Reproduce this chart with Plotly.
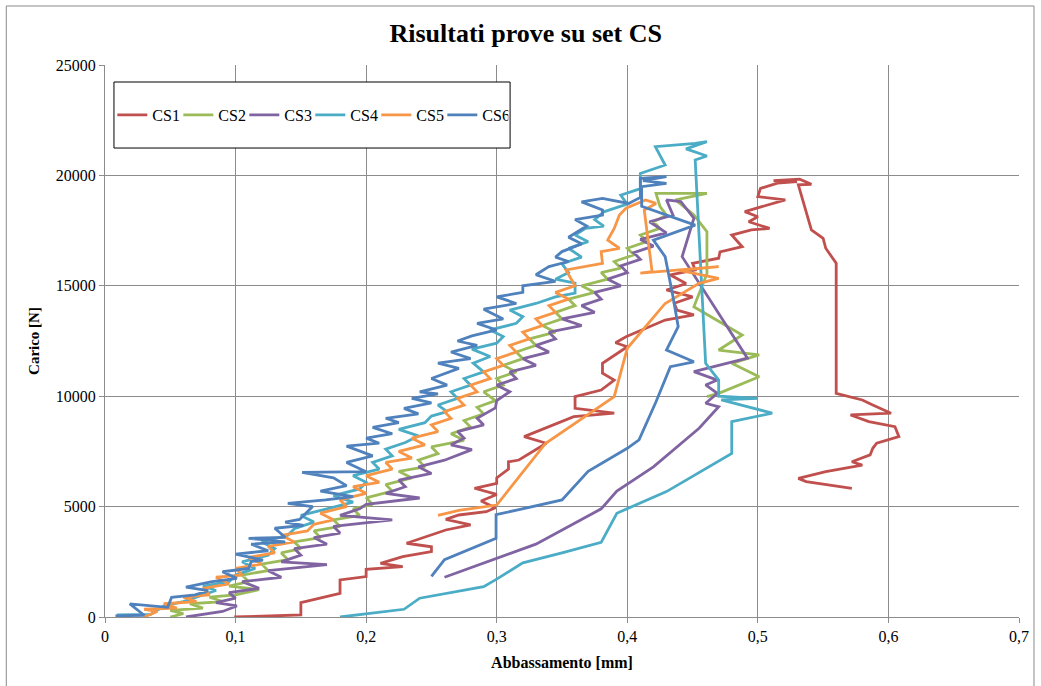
import plotly.graph_objects as go

# Prove di carico sul set CS: abbassamento [mm] vs carico [N]
series_names = ["CS1", "CS2", "CS3", "CS4", "CS5", "CS6"]
series_colors = ["#C0504D", "#9BBB59", "#8064A2", "#4BACC6", "#F79646", "#4F81BD"]

cs1_x = [0.099, 0.150, 0.150, 0.180, 0.180, 0.200, 0.200, 0.228, 0.211, 0.228, 0.250, 0.250,
         0.231, 0.250, 0.261, 0.280, 0.261, 0.271, 0.292, 0.299, 0.288, 0.300, 0.283, 0.300,
         0.300, 0.309, 0.309, 0.317, 0.326, 0.338, 0.321, 0.340, 0.359, 0.390, 0.360, 0.360,
         0.380, 0.390, 0.381, 0.381, 0.400, 0.391, 0.399, 0.429, 0.451, 0.438, 0.436, 0.450,
         0.430, 0.445, 0.433, 0.452, 0.450, 0.470, 0.471, 0.488, 0.480, 0.495, 0.509, 0.493,
         0.500, 0.490, 0.508, 0.521, 0.500, 0.502, 0.515, 0.530, 0.512, 0.532, 0.541, 0.531,
         0.541, 0.550, 0.552, 0.560, 0.560, 0.580, 0.588, 0.602, 0.571, 0.585, 0.605, 0.608,
         0.591, 0.588, 0.586, 0.572, 0.580, 0.552, 0.531, 0.537, 0.572]
cs1_y = [0, 90, 650, 1070, 1680, 1830, 2160, 2280, 2430, 2730, 2960, 3180,
         3340, 3710, 3940, 4170, 4420, 4620, 4770, 4950, 5250, 5550, 5830, 6050,
         6300, 6700, 7030, 7110, 7450, 7870, 8170, 8620, 9070, 9230, 9450, 9980,
         10280, 10730, 11040, 11490, 12240, 12420, 12690, 13450, 13680, 13900, 14210, 14500,
         14810, 15100, 15490, 15720, 16020, 16250, 16540, 16770, 17300, 17530, 17600, 17900,
         18130, 18360, 18660, 18890, 19040, 19410, 19650, 19720, 19760, 19830, 19600, 19570,
         17530, 17150, 16700, 16020, 10130, 9830, 9600, 9230, 9150, 8850, 8620, 8170,
         7870, 7640, 7340, 7030, 6880, 6580, 6280, 6130, 5830]

cs2_x = [0.050, 0.060, 0.050, 0.075, 0.065, 0.090, 0.080, 0.100, 0.118, 0.095, 0.110, 0.105,
         0.125, 0.120, 0.140, 0.135, 0.150, 0.145, 0.165, 0.160, 0.180, 0.175, 0.195, 0.190,
         0.205, 0.200, 0.220, 0.215, 0.235, 0.225, 0.245, 0.240, 0.255, 0.250, 0.275, 0.265,
         0.280, 0.275, 0.290, 0.285, 0.299, 0.290, 0.305, 0.300, 0.315, 0.305, 0.320, 0.315,
         0.330, 0.325, 0.345, 0.335, 0.350, 0.345, 0.360, 0.355, 0.375, 0.365, 0.385, 0.380,
         0.395, 0.390, 0.405, 0.400, 0.415, 0.410, 0.425, 0.420, 0.430, 0.425, 0.422, 0.461,
         0.437, 0.451, 0.461, 0.461, 0.451, 0.488, 0.470, 0.501, 0.480, 0.501, 0.470, 0.461]
cs2_y = [0, 150, 300, 400, 600, 700, 900, 1000, 1240, 1400, 1600, 1900,
         2100, 2400, 2600, 2900, 3100, 3400, 3600, 3900, 4100, 4400, 4600, 4900,
         5100, 5400, 5700, 6000, 6300, 6600, 6800, 7100, 7400, 7700, 8000, 8300,
         8600, 8900, 9200, 9500, 9800, 10200, 10500, 10800, 11100, 11400, 11700, 12000,
         12300, 12600, 12900, 13200, 13500, 13800, 14100, 14400, 14700, 15000, 15300, 15600,
         15800, 16100, 16400, 16700, 17000, 17300, 17600, 17900, 18200, 18600, 19190, 19190,
         18890, 18210, 17450, 15550, 14050, 12770, 12090, 11870, 11490, 10880, 10130, 9980]

cs3_x = [0.062, 0.072, 0.090, 0.101, 0.085, 0.100, 0.095, 0.118, 0.105, 0.135, 0.125, 0.170,
         0.135, 0.150, 0.145, 0.170, 0.160, 0.180, 0.175, 0.220, 0.180, 0.195, 0.200, 0.241,
         0.215, 0.230, 0.225, 0.250, 0.240, 0.260, 0.281, 0.265, 0.275, 0.270, 0.290, 0.285,
         0.299, 0.300, 0.310, 0.300, 0.315, 0.310, 0.330, 0.320, 0.340, 0.330, 0.345, 0.340,
         0.365, 0.350, 0.375, 0.365, 0.380, 0.375, 0.395, 0.385, 0.400, 0.395, 0.410, 0.405,
         0.420, 0.410, 0.430, 0.417, 0.435, 0.430, 0.441, 0.451, 0.442, 0.492, 0.451, 0.469,
         0.460, 0.469, 0.460, 0.470, 0.455, 0.420, 0.392, 0.380, 0.330, 0.260]
cs3_y = [0, 100, 250, 500, 650, 850, 1100, 1300, 1600, 1800, 2100, 2370,
         2500, 2800, 3100, 3300, 3600, 3800, 4100, 4400, 4600, 4900, 5100, 5390,
         5600, 5900, 6200, 6500, 6800, 7100, 7580, 7800, 8100, 8400, 8700, 9000,
         9470, 9800, 10200, 10500, 10800, 11100, 11400, 11700, 12000, 12300, 12600, 12900,
         13200, 13500, 13800, 14100, 14400, 14700, 15000, 15300, 15600, 15900, 16200, 16500,
         16800, 17100, 17400, 17900, 18200, 18890, 18810, 18060, 16320, 11720, 11110, 10730,
         10510, 10130, 9680, 9520, 8550, 6800, 5700, 4900, 3300, 1800]

cs4_x = [0.009, 0.035, 0.045, 0.060, 0.070, 0.085, 0.075, 0.095, 0.100, 0.115, 0.105, 0.125,
         0.130, 0.120, 0.140, 0.145, 0.160, 0.150, 0.170, 0.190, 0.175, 0.195, 0.200, 0.190,
         0.210, 0.205, 0.220, 0.215, 0.230, 0.240, 0.225, 0.245, 0.250, 0.262, 0.255, 0.270,
         0.265, 0.280, 0.275, 0.290, 0.282, 0.295, 0.281, 0.300, 0.305, 0.295, 0.315, 0.320,
         0.310, 0.330, 0.345, 0.360, 0.360, 0.345, 0.355, 0.350, 0.365, 0.355, 0.370, 0.360,
         0.368, 0.382, 0.375, 0.382, 0.400, 0.395, 0.410, 0.410, 0.429, 0.4215, 0.452, 0.461,
         0.445, 0.461, 0.452, 0.456, 0.460, 0.470, 0.470, 0.500, 0.472, 0.511, 0.480, 0.480,
         0.430, 0.392, 0.380, 0.350, 0.320, 0.299, 0.290, 0.241, 0.229, 0.180]
cs4_y = [100, 120, 500, 700, 900, 1200, 1400, 1600, 1900, 2200, 2500, 2800,
         3100, 3400, 3700, 4000, 4300, 4600, 4900, 5200, 5500, 5800, 6100, 6400,
         6700, 7000, 7300, 7600, 7900, 8200, 8500, 8800, 9100, 9300, 9600, 9900,
         10200, 10500, 10800, 11100, 11500, 11800, 12130, 12400, 12700, 13000, 13300, 13600,
         13900, 14200, 14500, 14670, 15120, 15300, 15600, 16000, 16300, 16700, 17000, 17300,
         17600, 17700, 18000, 18350, 18700, 19100, 19400, 20090, 20470, 21300, 21450, 21530,
         21200, 20880, 20700, 16020, 11490, 10730, 10000, 9900, 9830, 9230, 8850, 7410,
         5680, 4700, 3380, 2900, 2450, 1680, 1370, 850, 350, 0]

cs5_x = [0.030, 0.040, 0.030, 0.055, 0.045, 0.070, 0.060, 0.080, 0.075, 0.095, 0.085, 0.105,
         0.100, 0.120, 0.110, 0.130, 0.125, 0.145, 0.135, 0.155, 0.160, 0.175, 0.165, 0.185,
         0.180, 0.200, 0.190, 0.210, 0.200, 0.220, 0.215, 0.235, 0.225, 0.245, 0.235, 0.255,
         0.250, 0.265, 0.260, 0.275, 0.270, 0.285, 0.280, 0.295, 0.290, 0.305, 0.300, 0.315,
         0.310, 0.325, 0.320, 0.335, 0.330, 0.345, 0.340, 0.355, 0.345, 0.360, 0.353, 0.381,
         0.380, 0.394, 0.385, 0.390, 0.394, 0.399, 0.414, 0.422, 0.413, 0.419, 0.410, 0.470,
         0.440, 0.470, 0.455, 0.429, 0.400, 0.390, 0.3375, 0.300, 0.271, 0.255]
cs5_y = [0, 250, 350, 400, 600, 700, 900, 1000, 1300, 1500, 1800, 1900,
         2200, 2400, 2700, 2900, 3200, 3400, 3700, 3900, 4200, 4400, 4700, 5000,
         5300, 5600, 5900, 6100, 6400, 6700, 7000, 7200, 7500, 7800, 8100, 8400,
         8700, 9000, 9300, 9600, 9900, 10200, 10500, 10800, 11100, 11400, 11700, 12000,
         12300, 12600, 12900, 13200, 13500, 13800, 14100, 14400, 14700, 15000, 15720, 16020,
         16550, 16700, 17070, 17600, 18210, 18510, 18890, 18730, 18430, 15640, 15570, 15870,
         15700, 15340, 15110, 14200, 12170, 9980, 7870, 5070, 4830, 4600]

cs6_x = [0.008, 0.030, 0.019, 0.048, 0.051, 0.069, 0.079, 0.062, 0.082, 0.101, 0.090, 0.110,
         0.112, 0.121, 0.100, 0.125, 0.112, 0.138, 0.110, 0.138, 0.130, 0.152, 0.138, 0.149,
         0.159, 0.140, 0.169, 0.190, 0.165, 0.185, 0.175, 0.151, 0.200, 0.185, 0.205, 0.185,
         0.210, 0.200, 0.220, 0.205, 0.225, 0.215, 0.240, 0.229, 0.250, 0.235, 0.255, 0.241,
         0.262, 0.250, 0.271, 0.255, 0.280, 0.265, 0.285, 0.270, 0.281, 0.300, 0.285, 0.305,
         0.290, 0.315, 0.300, 0.320, 0.320, 0.345, 0.330, 0.340, 0.355, 0.345, 0.350, 0.365,
         0.355, 0.369, 0.360, 0.381, 0.381, 0.365, 0.381, 0.401, 0.410, 0.410, 0.430, 0.412,
         0.430, 0.411, 0.411, 0.452, 0.420, 0.429, 0.435, 0.439, 0.430, 0.451, 0.433, 0.422,
         0.409, 0.400, 0.370, 0.350, 0.317, 0.2995, 0.2995, 0.260, 0.250]
cs6_y = [50, 80, 590, 440, 890, 1000, 1190, 1350, 1600, 1750, 2050, 2200,
         2510, 2580, 2850, 3000, 3300, 3400, 3560, 3610, 4020, 4150, 4300, 4420,
         5000, 5150, 5300, 5450, 5700, 5950, 6300, 6550, 6580, 7000, 7300, 7740,
         7870, 8100, 8300, 8590, 8800, 9000, 9200, 9450, 9700, 9900, 10100, 10200,
         10500, 10800, 11260, 11500, 11700, 12000, 12300, 12500, 12730, 13000, 13300, 13500,
         13940, 14200, 14500, 14700, 15000, 15200, 15500, 15870, 16100, 16300, 16550, 16900,
         17200, 17710, 18000, 18200, 18430, 18800, 18960, 18730, 19000, 19870, 19940, 19760,
         19640, 19490, 18600, 17750, 17070, 16320, 14500, 13150, 12090, 11560, 11340, 9750,
         8020, 7640, 6600, 5300, 4860, 4640, 3560, 2600, 1840]

x_ticks = [0, 0.1, 0.2, 0.3, 0.4, 0.5, 0.6, 0.7]
x_tick_labels = ["0", "0,1", "0,2", "0,3", "0,4", "0,5", "0,6", "0,7"]
y_ticks = [0, 5000, 10000, 15000, 20000, 25000]
y_tick_labels = ["0", "5000", "10000", "15000", "20000", "25000"]

series_x = [cs1_x, cs2_x, cs3_x, cs4_x, cs5_x, cs6_x]
series_y = [cs1_y, cs2_y, cs3_y, cs4_y, cs5_y, cs6_y]

SERIF = "Liberation Serif, Times New Roman, serif"
GRID = "#8C8C8C"

fig = go.Figure()
for name, color, xs, ys in zip(series_names, series_colors, series_x, series_y):
    fig.add_trace(go.Scatter(x=xs, y=ys, name=name, mode="lines",
                             line=dict(color=color, width=2.8)))

# outer chart frame and legend box
fig.add_shape(type="rect", xref="paper", yref="paper",
              x0=-0.108, x1=1.0164, y0=-0.16, y1=1.1069,
              line=dict(color="#8A8A8A", width=1), fillcolor="rgba(0,0,0,0)", layer="below")
fig.add_shape(type="rect", xref="paper", yref="paper",
              x0=0.0098, x1=0.4432, y0=0.8496, y1=0.9692,
              line=dict(color="#000000", width=1), fillcolor="#FFFFFF", layer="above")

fig.update_layout(
    width=1041, height=686,
    margin=dict(l=105, r=20, t=65, b=69),
    paper_bgcolor="#FFFFFF", plot_bgcolor="#FFFFFF",
    title=dict(text="<b>Risultati prove su set CS</b>", x=0.505, xanchor="center",
               y=0.952, yanchor="middle",
               font=dict(family=SERIF, size=26, color="#000000")),
    font=dict(family=SERIF, size=16, color="#000000"),
    showlegend=True,
    legend=dict(orientation="h", x=0.008, xanchor="left", y=0.9094, yanchor="middle",
                bgcolor="rgba(0,0,0,0)", borderwidth=0,
                font=dict(family=SERIF, size=16, color="#000000"),
                itemwidth=30, tracegroupgap=0,
                entrywidth=21, entrywidthmode="pixels"),
    xaxis=dict(range=[0, 0.7], tickvals=x_ticks, ticktext=x_tick_labels,
               showgrid=True, gridcolor=GRID, gridwidth=1,
               zeroline=False, showline=True, linecolor=GRID, linewidth=1, mirror=False,
               ticks="outside", ticklen=5, tickcolor=GRID,
               tickfont=dict(family=SERIF, size=16, color="#000000"),
               title=dict(text="<b>Abbassamento [mm]</b>", standoff=12,
                          font=dict(family=SERIF, size=16, color="#000000"))),
    yaxis=dict(range=[0, 25000], tickvals=y_ticks, ticktext=y_tick_labels,
               showgrid=True, gridcolor=GRID, gridwidth=1,
               zeroline=False, showline=True, linecolor=GRID, linewidth=1,
               ticks="outside", ticklen=5, tickcolor=GRID,
               tickfont=dict(family=SERIF, size=16, color="#000000"),
               title=dict(text="<b>Carico [N]</b>", standoff=12,
                          font=dict(family=SERIF, size=15, color="#000000"))),
)

fig.write_html("out.html")
